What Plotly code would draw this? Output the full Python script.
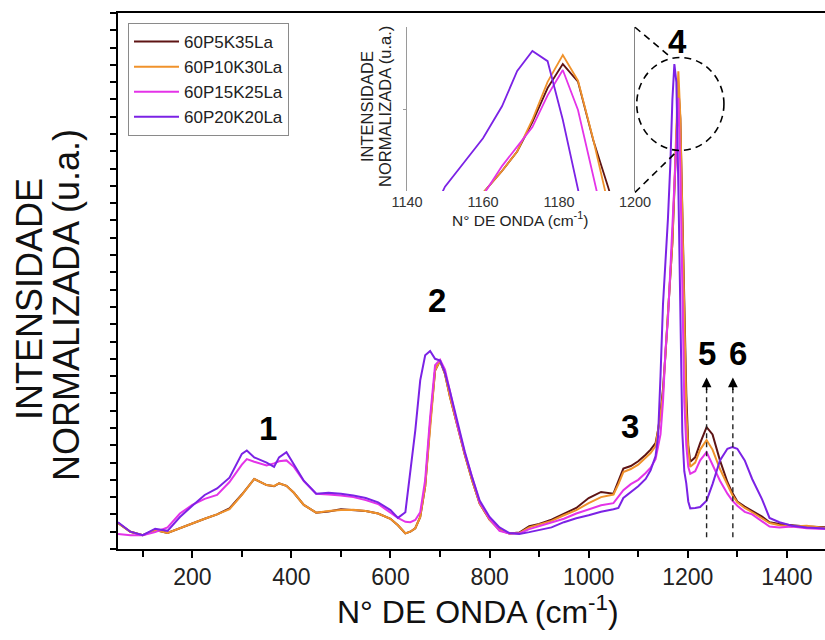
import plotly.graph_objects as go

# ---------------- data ----------------
wavenumber = [50, 75, 100, 125, 150, 175, 200, 225, 250, 275, 300, 310, 325, 350, 365, 375, 390, 405,
              425, 450, 475, 500, 525, 550, 575, 600, 615, 630, 640, 650, 660, 670, 680, 690, 700,
              710, 720, 735, 750, 765, 780, 800, 820, 840, 860, 880, 900, 925, 950, 975, 1000,
              1025, 1050, 1060, 1070, 1085, 1100, 1115, 1125, 1135, 1140, 1145, 1150, 1155, 1160,
              1165, 1169, 1173, 1177, 1181, 1185, 1189, 1193, 1197, 1201, 1205, 1215, 1225, 1238,
              1250, 1265, 1280, 1290, 1300, 1315, 1330, 1350, 1365, 1385, 1410, 1440, 1480]

s_60P5K35La = [0.020, 0.000, -0.008, 0.004, -0.003, 0.008, 0.020, 0.030, 0.040, 0.054, 0.086, 0.100,
               0.122, 0.108, 0.105, 0.112, 0.106, 0.090, 0.062, 0.044, 0.047, 0.052, 0.050, 0.048,
               0.042, 0.030, 0.015, -0.004, 0.000, 0.008, 0.034, 0.105, 0.250, 0.373, 0.396, 0.365,
               0.312, 0.245, 0.178, 0.118, 0.065, 0.028, 0.004, -0.004, -0.002, 0.013, 0.018, 0.028,
               0.042, 0.055, 0.078, 0.092, 0.088, 0.118, 0.146, 0.152, 0.163, 0.178, 0.190, 0.205,
               0.235, 0.275, 0.330, 0.410, 0.500, 0.590, 0.670, 0.790, 0.930, 1.028, 0.956, 0.717,
               0.520, 0.320, 0.200, 0.162, 0.172, 0.205, 0.242, 0.225, 0.165, 0.115, 0.090, 0.070,
               0.058, 0.048, 0.035, 0.022, 0.018, 0.015, 0.012, 0.010]

s_60P10K30La = [0.020, 0.000, -0.008, 0.004, -0.003, 0.008, 0.020, 0.030, 0.040, 0.052, 0.085, 0.100,
                0.122, 0.108, 0.106, 0.112, 0.106, 0.090, 0.062, 0.044, 0.048, 0.050, 0.051, 0.048,
                0.042, 0.030, 0.015, -0.004, 0.000, 0.008, 0.034, 0.105, 0.250, 0.373, 0.396, 0.365,
                0.312, 0.245, 0.178, 0.118, 0.065, 0.028, 0.004, -0.004, -0.003, 0.010, 0.016, 0.025,
                0.038, 0.050, 0.066, 0.080, 0.086, 0.110, 0.138, 0.145, 0.155, 0.172, 0.182, 0.198,
                0.230, 0.270, 0.320, 0.410, 0.500, 0.590, 0.670, 0.800, 0.955, 1.065, 0.960, 0.720,
                0.450, 0.280, 0.190, 0.150, 0.160, 0.190, 0.212, 0.190, 0.145, 0.108, 0.085, 0.068,
                0.055, 0.045, 0.030, 0.020, 0.015, 0.012, 0.014, 0.008]

s_60P15K25La = [-0.005, -0.008, -0.008, -0.001, 0.010, 0.042, 0.062, 0.076, 0.085, 0.115, 0.155, 0.168,
                0.162, 0.153, 0.158, 0.163, 0.165, 0.150, 0.117, 0.088, 0.086, 0.084, 0.080, 0.073,
                0.064, 0.045, 0.032, 0.023, 0.022, 0.027, 0.045, 0.120, 0.265, 0.385, 0.398, 0.375,
                0.322, 0.248, 0.182, 0.122, 0.068, 0.030, 0.002, -0.004, -0.004, 0.006, 0.013, 0.021,
                0.030, 0.042, 0.052, 0.061, 0.066, 0.080, 0.096, 0.110, 0.120, 0.136, 0.148, 0.168,
                0.195, 0.225, 0.300, 0.420, 0.490, 0.610, 0.690, 0.770, 0.900, 1.004, 0.840, 0.570,
                0.300, 0.200, 0.150, 0.134, 0.140, 0.165, 0.184, 0.155, 0.118, 0.088, 0.072, 0.060,
                0.046, 0.040, 0.025, 0.012, 0.010, 0.012, 0.008, 0.006]

s_60P20K20La = [0.022, 0.000, -0.008, 0.007, 0.002, 0.034, 0.060, 0.085, 0.100, 0.125, 0.180, 0.188,
                0.172, 0.160, 0.150, 0.172, 0.184, 0.155, 0.118, 0.088, 0.090, 0.088, 0.084, 0.078,
                0.068, 0.050, 0.032, 0.045, 0.142, 0.234, 0.350, 0.408, 0.418, 0.400, 0.396, 0.368,
                0.325, 0.252, 0.185, 0.125, 0.072, 0.034, 0.010, -0.003, -0.005, -0.001, 0.004, 0.010,
                0.022, 0.031, 0.038, 0.046, 0.052, 0.055, 0.078, 0.092, 0.105, 0.122, 0.142, 0.175,
                0.220, 0.360, 0.526, 0.625, 0.724, 0.855, 1.000, 1.082, 1.040, 0.800, 0.545, 0.230,
                0.140, 0.112, 0.070, 0.054, 0.055, 0.057, 0.072, 0.110, 0.165, 0.192, 0.196, 0.192,
                0.165, 0.122, 0.075, 0.032, 0.022, 0.014, 0.010, 0.007]

series_names = ["60P5K35La", "60P10K30La", "60P15K25La", "60P20K20La"]
series_values = [s_60P5K35La, s_60P10K30La, s_60P15K25La, s_60P20K20La]
series_colors = ["#5e1414", "#f0922b", "#e433e8", "#7b22e5"]

x_tick_values = [200, 400, 600, 800, 1000, 1200, 1400]
inset_tick_values = [1140, 1160, 1180, 1200]

peak_labels = ["1", "2", "3", "4", "5", "6"]
peak_label_x = [353, 694, 1083, 1180, 1239, 1301]
peak_label_y = [0.239, 0.535, 0.244, 1.134, 0.412, 0.412]
arrow_x = [1238, 1291]

# ---------------- figure ----------------
FONT = "Liberation Sans, Arial, Helvetica, sans-serif"
W, H = 825, 640
ML, MR, MT, MB = 118, 0, 13, 91
PW, PH = W - ML - MR, H - MT - MB


def px_x(px):  # page pixel -> paper x
    return (px - ML) / PW


def px_y(py):  # page pixel -> paper y
    return (H - MB - py) / PH


fig = go.Figure()

for name, vals, col in zip(series_names, series_values, series_colors):
    fig.add_trace(go.Scatter(x=wavenumber, y=vals, mode="lines", name=name,
                             line=dict(color=col, width=2), xaxis="x", yaxis="y"))
for name, vals, col in zip(series_names, series_values, series_colors):
    fig.add_trace(go.Scatter(x=wavenumber, y=vals, mode="lines", name=name, showlegend=False,
                             line=dict(color=col, width=1.8), xaxis="x2", yaxis="y2"))

fig.update_layout(
    width=W, height=H, autosize=False,
    margin=dict(l=ML, r=MR, t=MT, b=MB, autoexpand=False),
    paper_bgcolor="white", plot_bgcolor="white",
    font=dict(family=FONT, color="#111"),
    showlegend=True,
    legend=dict(x=px_x(128), y=px_y(23), xanchor="left", yanchor="top",
                bgcolor="white", bordercolor="#8a8a8a", borderwidth=1,
                font=dict(size=17, color="#222"), tracegroupgap=0, itemwidth=45),
    xaxis=dict(domain=[0, 1], range=[50, 1477], tickmode="array", tickvals=x_tick_values,
               ticks="outside", ticklen=7, tickwidth=1.5, tickcolor="black",
               minor=dict(dtick=100, tick0=0, ticks="outside", ticklen=6, tickwidth=1.5,
                          tickcolor="black"),
               showline=True, linecolor="black", linewidth=1.5, mirror=True,
               showgrid=False, zeroline=False,
               tickfont=dict(size=23, color="#222")),
    yaxis=dict(domain=[0, 1], range=[-0.04, 1.2], tick0=0, dtick=0.04,
               ticks="outside", ticklen=6, tickwidth=1.5, tickcolor="black",
               showticklabels=False, showline=True, linecolor="black", linewidth=1.5,
               showgrid=False, zeroline=False),
    xaxis2=dict(domain=[px_x(407), px_x(635)], anchor="y2", range=[1140, 1200],
                tickmode="array", tickvals=inset_tick_values, ticks="",
                showline=False, showgrid=False, zeroline=False,
                tickfont=dict(size=14.5, color="#333")),
    yaxis2=dict(domain=[px_y(191), px_y(27)], anchor="x2", range=[0.508, 1.18],
                tickmode="array", tickvals=[0.84], ticks="outside", ticklen=3,
                tickcolor="#999", showticklabels=False,
                showline=True, linecolor="#9a9a9a", linewidth=1,
                showgrid=False, zeroline=False),
)

annotations = []
for t, xv, yv in zip(peak_labels, peak_label_x, peak_label_y):
    annotations.append(dict(text="<b>" + t + "</b>", x=xv, y=yv, xref="x", yref="y",
                            xanchor="center", yanchor="middle",
                            showarrow=False, font=dict(size=33, color="black")))
for xv in arrow_x:
    annotations.append(dict(text="", x=xv, y=0.357, xref="x", yref="y", showarrow=True,
                            ax=0, ay=14, arrowhead=2, arrowsize=1.3, arrowwidth=1.5,
                            arrowcolor="black"))


def ptext(text, px, py, size, angle=0, color="#111"):
    return dict(text=text, x=px_x(px), y=px_y(py), xref="paper", yref="paper",
                xanchor="center", yanchor="middle", textangle=angle, showarrow=False,
                font=dict(size=size, color=color))


# axis titles
annotations.append(ptext("N° DE ONDA (cm<sup>-1</sup>)", 478, 610, 32))
annotations.append(ptext("INTENSIDADE", 30, 299, 36, -90))
annotations.append(ptext("NORMALIZADA (u.a.)", 66, 305, 36, -90))
# inset titles
annotations.append(ptext("N° DE ONDA (cm<sup>-1</sup>)", 520, 219, 15.5, 0, "#222"))
annotations.append(ptext("INTENSIDADE", 367, 107, 16.5, -90, "#222"))
annotations.append(ptext("NORMALIZADA (u.a.)", 385, 107, 16.5, -90, "#222"))
fig.update_layout(annotations=annotations)

shapes = []
DASH = dict(color="black", width=1.6, dash="7px,5px")
# zoom circle around peak 4
shapes.append(dict(type="circle", xref="x", yref="y", x0=1097, x1=1273, y0=0.882, y1=1.097,
                   line=DASH))
# connectors from inset to circle
shapes.append(dict(type="line", xref="x", yref="y", x0=1093.5, y0=1.167, x1=1160, y1=1.103,
                   line=DASH))
shapes.append(dict(type="line", xref="x", yref="y", x0=1093.5, y0=0.785, x1=1180, y1=0.882,
                   line=DASH))
# inset right border at 1200
shapes.append(dict(type="line", xref="x2", yref="y2 domain", x0=1200, x1=1200, y0=0, y1=1,
                   line=dict(color="#333", width=1.2)))
# dashed arrow shafts
for xv in arrow_x:
    shapes.append(dict(type="line", xref="x", yref="y", x0=xv, x1=xv, y0=-0.013, y1=0.33,
                       line=dict(color="#222", width=1.4, dash="5px,4px")))
fig.update_layout(shapes=shapes)

fig.write_html(
    "out.html",
    config={"displayModeBar": False, "responsive": False},
    post_script="document.body.style.margin='0';document.body.style.overflow='hidden';"
                "document.documentElement.style.overflow='hidden';",
)
